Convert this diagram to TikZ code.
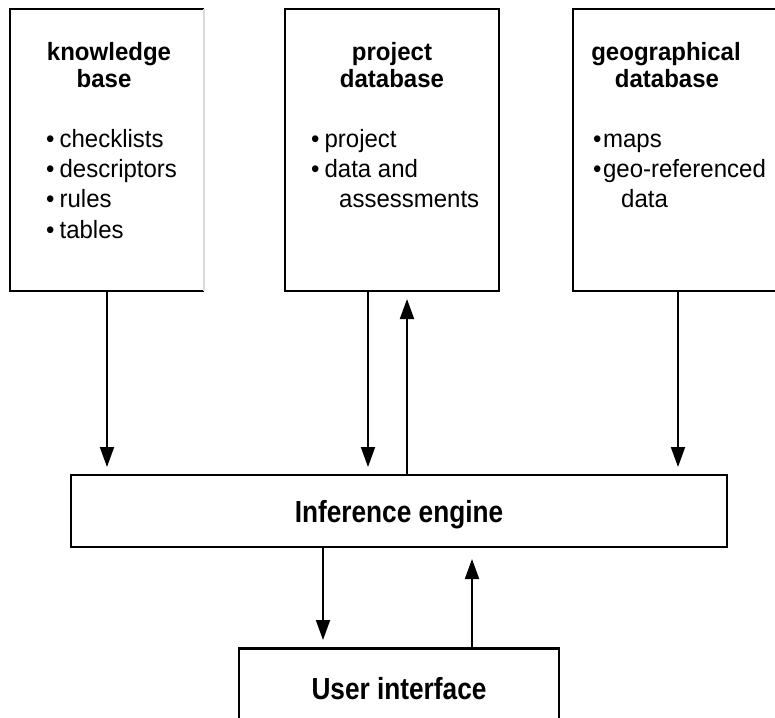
\documentclass[tikz,border=0pt]{standalone}
\usepackage{fontspec}
\setmainfont{Liberation Sans}
\newfontfamily\listfont{Liberation Sans}[FakeStretch=0.96]
\newfontfamily\enginefont{Liberation Sans}[FakeStretch=0.86]
\usetikzlibrary{arrows.meta}

\begin{document}
\begin{tikzpicture}[x=1pt,y=-1pt,
  box/.style={draw, line width=2pt, anchor=north west, inner sep=0pt, outer sep=0pt},
  flow/.style={line width=2pt, -{Triangle[length=20pt,width=14pt]}, shorten >=8pt},
  headtext/.style={anchor=base, inner sep=0pt, font=\listfont\fontsize{25}{27}\selectfont\bfseries},
  listtext/.style={anchor=base west, inner sep=0pt, font=\listfont\fontsize{25}{30}\selectfont},
  bigtext/.style={anchor=base, inner sep=0pt, font=\enginefont\fontsize{30.5}{32}\selectfont\bfseries}]

\useasboundingbox[fill=white] (0,0) rectangle (775,717);

% knowledge base (its right side is a pale line)
\node[box, draw=none, minimum width=194pt, minimum height=282pt] (kb) at (10,9) {};
\draw[line width=2pt] (kb.south east) -- (kb.south west) -- (kb.north west) -- (kb.north east);
\draw[line width=2pt, black!14] (kb.north east) -- (kb.south east);

% project database
\node[box, minimum width=214pt, minimum height=282pt] (pdb) at (285,9) {};
% geographical database, running past the right margin
\node[box, minimum width=210pt, minimum height=282pt] (geo) at (573,9) {};
% inference engine
\node[box, minimum width=656pt, minimum height=72pt] (ie) at (71,475) {};
% user interface, running past the bottom margin
\node[box, minimum width=320pt, minimum height=90pt] (ui) at (239,648) {};
\draw[line width=3pt] (ui.north west) -- (ui.north east);

% box texts
\node[headtext] (kbt1) at (109,60) {knowledge};
\node[headtext] (kbt2) at (104,87) {base};
\node[listtext] (kb1) at (46,147) {•\hspace{5pt}checklists};
\node[listtext] (kb2) at (46,177) {•\hspace{5pt}descriptors};
\node[listtext] (kb3) at (46,207) {•\hspace{5pt}rules};
\node[listtext] (kb4) at (46,238) {•\hspace{5pt}tables};

\node[headtext] (pdbt1) at (392,60) {project};
\node[headtext] (pdbt2) at (392,87) {database};
\node[listtext] (pdb1) at (311,147) {•\hspace{5pt}project};
\node[listtext] (pdb2) at (311,177) {•\hspace{5pt}data and};
\node[listtext] (pdb3) at (339,207) {assessments};

\node[headtext] (geot1) at (666,60) {geographical};
\node[headtext] (geot2) at (667,87) {database};
\node[listtext] (geo1) at (593,147) {•\hspace{1.5pt}maps};
\node[listtext] (geo2) at (593,177) {•\hspace{1.5pt}geo-referenced};
\node[listtext] (geo3) at (621,207) {data};

\node[bigtext] (iet) at (399,522) {Inference engine};
\node[bigtext] (uit) at (399,699) {User interface};

% data flows
\draw[flow] (kb.south) -- (kb.south |- ie.north);
\draw[flow] ([xshift=-24pt]pdb.south) -- ([xshift=-24pt]pdb.south |- ie.north);
\draw[flow] ([xshift=15pt]pdb.south |- ie.north) -- ([xshift=15pt]pdb.south);
\draw[flow] (geo.south) -- (geo.south |- ie.north);
\draw[flow] ([xshift=-76pt]ie.south) -- ([xshift=-76pt]ie.south |- ui.north);
\draw[flow, shorten >=12pt] ([xshift=73pt]ie.south |- ui.north) -- ([xshift=73pt]ie.south);
\end{tikzpicture}
\end{document}
